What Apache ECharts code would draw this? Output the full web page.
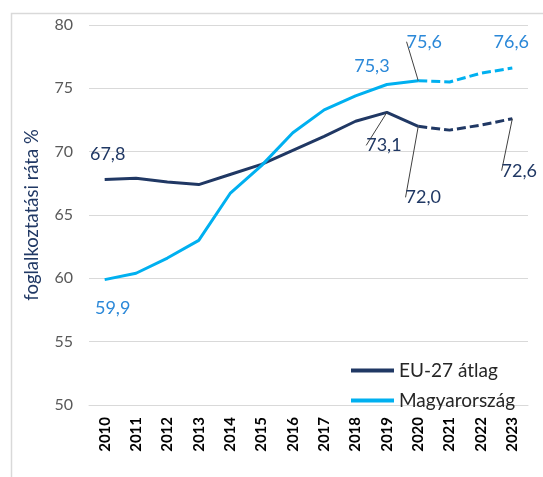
<!DOCTYPE html>
<html>
<head>
<meta charset="utf-8">
<script src="https://cdn.jsdelivr.net/npm/echarts@6/dist/echarts.min.js"></script>
<style>
  html, body { margin: 0; padding: 0; background: #fff; }
  #chart { width: 543px; height: 477px; }
</style>
</head>
<body>
<div id="chart"></div>
<script>
'use strict'
var years = ['2010', '2011', '2012', '2013', '2014', '2015', '2016', '2017', '2018', '2019', '2020', '2021', '2022', '2023'];
var euValues = [67.8, 67.9, 67.6, 67.4, 68.2, 69.0, 70.1, 71.2, 72.4, 73.1, 72.0, 71.7, 72.1, 72.6];
var huValues = [59.9, 60.4, 61.6, 63.0, 66.7, 68.9, 71.5, 73.3, 74.4, 75.3, 75.6, 75.5, 76.2, 76.6];
var yTicks = [50, 55, 60, 65, 70, 75, 80];
var lastActual = '2020';
var labeledYears = ['2010', '2019', '2020', '2023'];

var euColor = '#203864';
var huColor = '#00b0f0';
var euLabelColor = '#203864';
var huLabelColor = '#2b88d8';

// label offsets from the point (label centre), in px; third flag = leader line
var euOffsets = { '2010': [3, -25, false], '2019': [-3, 33, true], '2020': [5, 71, true], '2023': [7, 52, true] };
var huOffsets = { '2010': [8, 29, false], '2019': [-15, -18, false], '2020': [6, -39, true], '2023': [-1, -26, false] };

var cut = years.indexOf(lastActual);

function buildData(values, part, offsets) {
  return values.map(function (v, i) {
    var inPart = part === 'actual' ? i <= cut : i >= cut;
    if (!inPart) return null;
    var y = years[i];
    var owner = part === 'actual' ? i <= cut : i > cut;
    if (owner && labeledYears.indexOf(y) >= 0) {
      return {
        value: v,
        label: { show: true },
        labelLine: { show: offsets[y][2] }
      };
    }
    return v;
  });
}

function fmt(p) {
  return p.value.toFixed(1).replace('.', ',');
}

function layoutFor(offsets) {
  return function (params) {
    var o = offsets[years[params.dataIndex]];
    if (!o) return {};
    return { dx: o[0], dy: o[1] };
  };
}

function lineSeries(name, values, part, color, labelColor, offsets) {
  return {
    name: name,
    type: 'line',
    data: buildData(values, part, offsets),
    symbol: 'circle',
    symbolSize: 0,
    showSymbol: true,
    connectNulls: false,
    lineStyle: { color: color, width: 3, type: part === 'actual' ? 'solid' : [9, 4] },
    itemStyle: { color: color },
    label: {
      show: false,
      position: 'inside',
      formatter: fmt,
      color: labelColor,
      fontFamily: 'Lato',
      fontSize: 18
    },
    labelLine: { show: false, lineStyle: { color: '#404040', width: 1 } },
    labelLayout: layoutFor(offsets),
    emphasis: { disabled: true },
    z: part === 'actual' ? 3 : 2
  };
}

var chart = echarts.init(document.getElementById('chart'));
chart.setOption({
  animation: false,
  textStyle: { fontFamily: 'Lato' },
  graphic: [{
    type: 'rect',
    shape: { x: 11.5, y: 13.5, width: 600, height: 600 },
    style: { fill: 'none', stroke: '#d9d9d9', lineWidth: 1.5 },
    silent: true
  }],
  grid: { left: 89, right: 15, top: 25, bottom: 72 },
  legend: {
    data: ['EU-27 átlag', 'Magyarország'],
    orient: 'vertical',
    left: 346,
    top: 356,
    icon: 'rect',
    itemWidth: 43,
    itemHeight: 4,
    itemGap: 11,
    textStyle: { fontFamily: 'Lato', fontSize: 19, color: '#262626' }
  },
  xAxis: {
    type: 'category',
    data: years,
    boundaryGap: true,
    axisLine: { show: true, lineStyle: { color: '#d9d9d9' } },
    axisTick: { show: false },
    axisLabel: {
      rotate: 90,
      margin: 12,
      fontFamily: 'Lato',
      fontWeight: 'bold',
      fontSize: 15,
      color: '#000'
    }
  },
  yAxis: {
    type: 'value',
    min: yTicks[0],
    max: yTicks[yTicks.length - 1],
    interval: 5,
    name: 'foglalkoztatási ráta %',
    nameLocation: 'middle',
    nameGap: 47,
    nameTextStyle: { fontFamily: 'Lato', fontSize: 18.5, color: '#203864' },
    axisLine: { show: false },
    axisTick: { show: false },
    axisLabel: { margin: 16, fontFamily: 'Lato', fontSize: 16, color: '#595959' },
    splitLine: { lineStyle: { color: '#d9d9d9', width: 1 } }
  },
  series: [
    lineSeries('EU-27 átlag', euValues, 'actual', euColor, euLabelColor, euOffsets),
    lineSeries('Magyarország', huValues, 'actual', huColor, huLabelColor, huOffsets),
    lineSeries('EU-27 átlag előrejelzés', euValues, 'forecast', euColor, euLabelColor, euOffsets),
    lineSeries('Magyarország előrejelzés', huValues, 'forecast', huColor, huLabelColor, huOffsets)
  ]
});
</script>
</body>
</html>
